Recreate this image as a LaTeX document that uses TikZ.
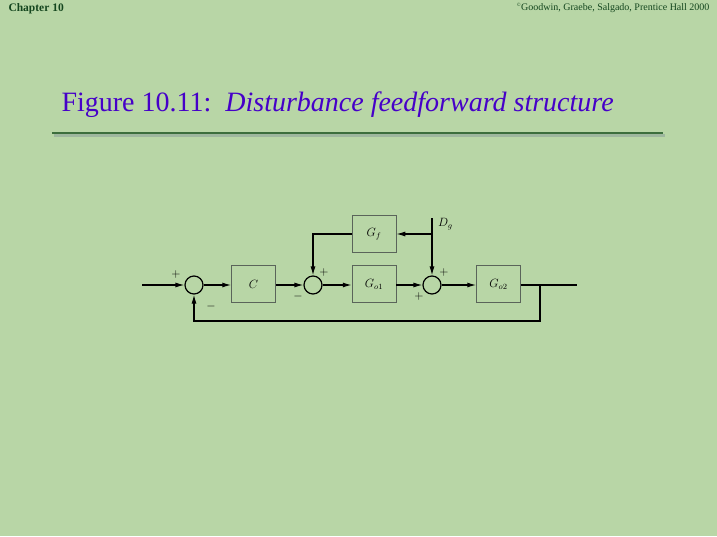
\documentclass[tikz,border=0pt]{standalone}
\usepackage{fontspec}
\setmainfont{Liberation Serif}
\usetikzlibrary{arrows.meta}
\definecolor{bg}{RGB}{184,214,166}
\definecolor{titlecol}{RGB}{70,0,200}
\definecolor{chapcol}{RGB}{20,70,30}
\definecolor{rulecol}{RGB}{60,110,60}
\definecolor{boxline}{RGB}{90,100,90}
\tikzset{
  blk/.style={draw=boxline, line width=0.5pt, minimum width=44pt, minimum height=37pt, inner sep=0pt, font=\large},
  sumnode/.style={circle, draw=black, line width=1.2pt, minimum size=18pt, inner sep=0pt},
  sig/.style={line width=1.2pt, -{Latex[length=9pt,width=5pt]}},
  wire/.style={line width=1.2pt},
  sgn/.style={font=\large, inner sep=0pt}
}
\begin{document}
\begin{tikzpicture}[x=1pt,y=-1pt]
\useasboundingbox (0,0) rectangle (717,536);
\fill[bg] (0,0) rectangle (717,536);
% header
\node[anchor=west, font=\bfseries\fontsize{11.5}{12}\selectfont, text=chapcol] (chap) at (5,9) {Chapter 10};
\node[anchor=east, font=\fontsize{10}{11}\selectfont, text=chapcol] (copy) at (713,8) {\textsuperscript{\tiny\textcopyright}Goodwin, Graebe, Salgado, Prentice Hall 2000};
% title
\node[anchor=west, font=\fontsize{28}{32}\selectfont, text=titlecol] (title) at (58,105) {Figure 10.11:\ \ \textit{Disturbance feedforward structure}};
\draw[line width=3pt, rulecol!50!white] (54,135) -- (665,135);
\draw[line width=2.5pt, rulecol] (52,133) -- (663,133);
% blocks
\node[sumnode] (s1) at (194,285) {};
\node[blk] (C) at (253.5,284) {$C$};
\node[sumnode] (s2) at (313,285) {};
\node[blk] (Gf) at (374,234) {$G_f$};
\node[blk] (Go1) at (374,284) {$G_{o1}$};
\node[sumnode] (s3) at (432,285) {};
\node[blk] (Go2) at (498.5,284) {$G_{o2}$};
\coordinate (in) at (142,285);
\coordinate (out) at (577,285);
\coordinate (branch) at (540,285);
\coordinate (fbr) at (540,321);
\coordinate (fbl) at (194,321);
\coordinate (dgtop) at (432,218);
\coordinate (dgmid) at (432,234);
\coordinate (gfl) at (313,234);
% connections
\draw[sig] (in) -- (s1.west);
\draw[sig] (s1.east) -- (C.west |- s1.east);
\draw[sig] (C.east |- s2.west) -- (s2.west);
\draw[sig] (s2.east) -- (Go1.west |- s2.east);
\draw[sig] (Go1.east |- s3.west) -- (s3.west);
\draw[sig] (s3.east) -- (Go2.west |- s3.east);
\draw[wire] (Go2.east |- out) -- (out);
\draw[sig] (branch) -- (fbr) -- (fbl) -- (s1.south);
\draw[sig] (dgtop) -- (s3.north);
\draw[sig] (dgmid) -- (Gf.east);
\draw[sig] (Gf.west) -- (gfl) -- (s2.north);
% labels
\node[anchor=west, inner sep=0pt, font=\large] (dg) at (438,224) {$D_g$};
\node[sgn] (p1) at (176,274) {$+$};
\node[sgn] (m1) at (211,306) {$-$};
\node[sgn] (p2) at (324,272) {$+$};
\node[sgn] (m2) at (298,296) {$-$};
\node[sgn] (p3) at (444,272) {$+$};
\node[sgn] (p4) at (419,296) {$+$};
\end{tikzpicture}
\end{document}
